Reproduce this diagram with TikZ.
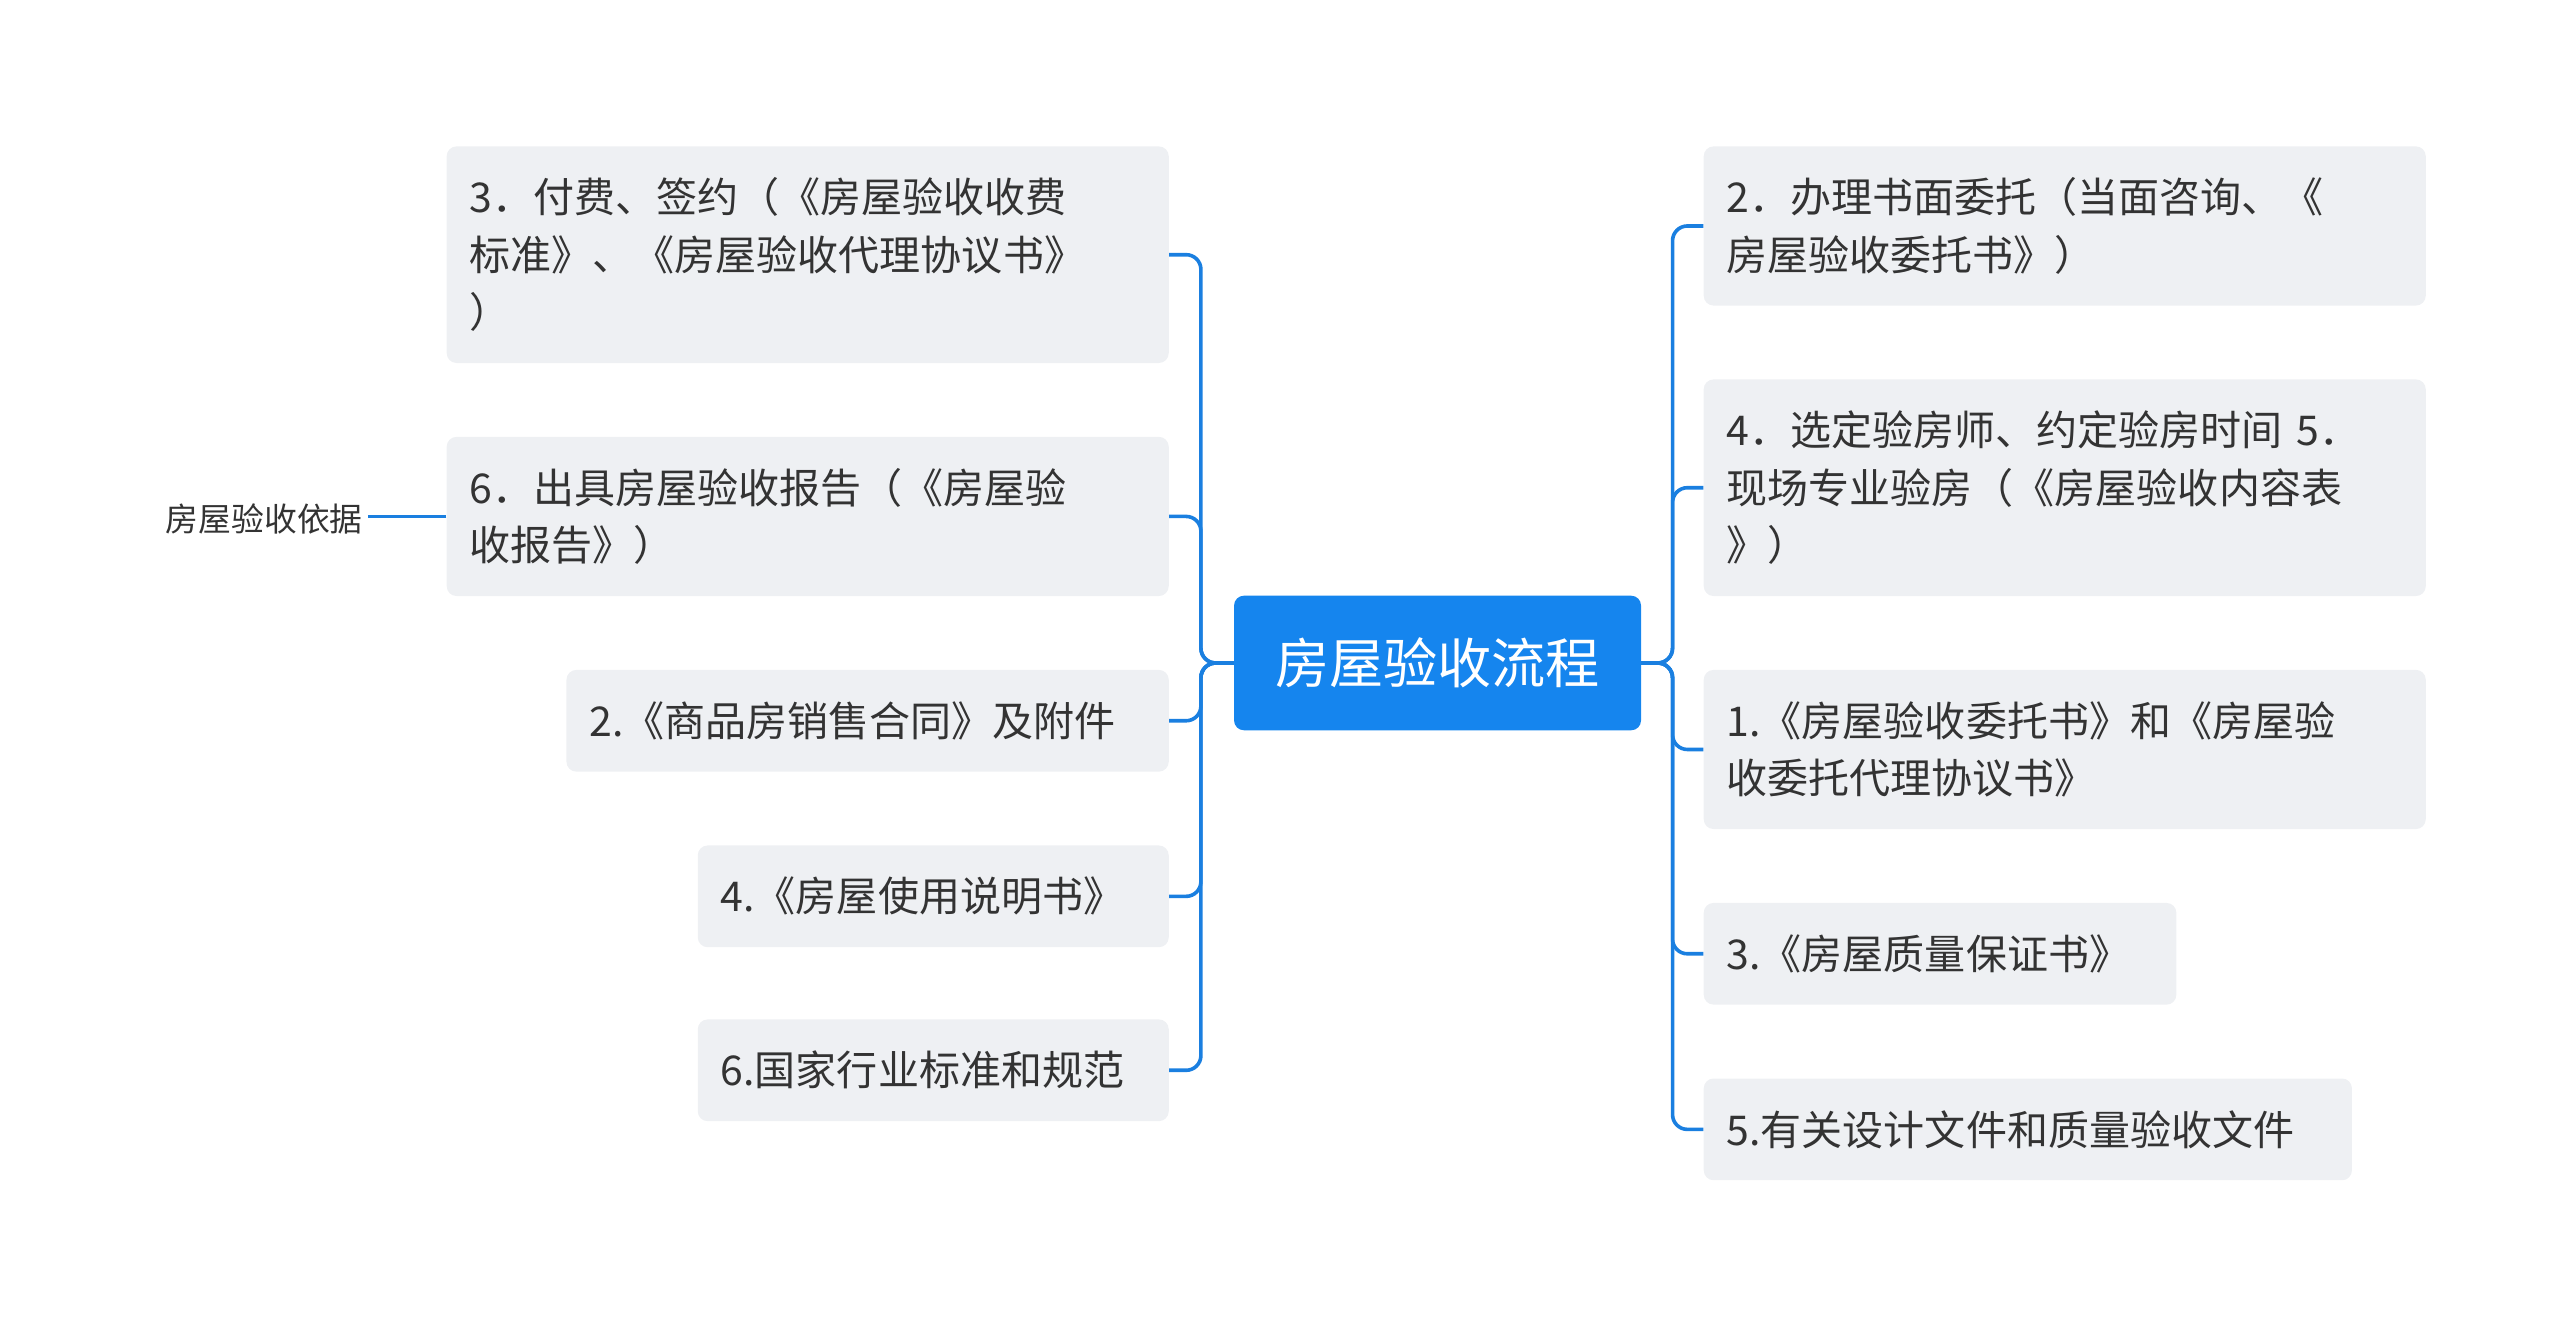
\documentclass[tikz,border=0pt]{standalone}
\usepackage{fontspec}
\newfontfamily\cjk{Noto Sans CJK SC}
\definecolor{boxgray}{HTML}{EEF0F3}
\definecolor{linkblue}{HTML}{1A7FE0}
\definecolor{rootblue}{HTML}{1585EE}
\definecolor{txt}{HTML}{333333}
\tikzset{
  topic/.style={fill=boxgray, rounded corners=6pt, anchor=north west, align=left,
    text=txt, inner xsep=14pt, inner ysep=0pt,
    font=\cjk\fontsize{25}{35}\selectfont},
  conn/.style={draw=linkblue, line width=2.2pt, rounded corners=9pt}
}
\begin{document}
\begin{tikzpicture}[x=1pt,y=-1pt]
        \useasboundingbox (0,0) rectangle (1560,804);
        \node[fill=rootblue, rounded corners=6pt, text=white, minimum width=248pt,
              minimum height=82pt, font=\cjk\fontsize{33}{40}\selectfont] (root) at (876,404) {房屋验收流程};
        % left side
        \node[topic, text width=412pt, minimum height=132pt] (L1) at (272,89) {3．付费、签约（《房屋验收收费\\标准》、《房屋验收代理协议书》\\）};
        \node[topic, text width=412pt, minimum height=97pt] (L2) at (272,266) {6．出具房屋验收报告（《房屋验\\收报告》）};
        \node[topic, text width=339pt, minimum height=62pt] (L3) at (345,408) {2.《商品房销售合同》及附件};
        \node[topic, text width=259pt, minimum height=62pt] (L4) at (425,515) {4.《房屋使用说明书》};
        \node[topic, text width=259pt, minimum height=62pt] (L5) at (425,621) {6.国家行业标准和规范};
        \node[text=txt, font=\cjk\fontsize{20}{24}\selectfont] (leaf) at (161,316) {房屋验收依据};
        % right side
        \node[topic, text width=412pt, minimum height=97pt] (R1) at (1038,89) {2．办理书面委托（当面咨询、《\\房屋验收委托书》）};
        \node[topic, text width=412pt, minimum height=132pt] (R2) at (1038,231) {4．选定验房师、约定验房时间 5．\\现场专业验房（《房屋验收内容表\\》）};
        \node[topic, text width=412pt, minimum height=97pt] (R3) at (1038,408) {1.《房屋验收委托书》和《房屋验\\收委托代理协议书》};
        \node[topic, text width=260pt, minimum height=62pt] (R4) at (1038,550) {3.《房屋质量保证书》};
        \node[topic, text width=367pt, minimum height=62pt] (R5) at (1038,657) {5.有关设计文件和质量验收文件};
        % links
        \foreach \n in {L1,L2,L3,L4,L5}
          \draw[conn] (root.west) -- ++(-20,0) |- (\n.east);
        \foreach \n in {R1,R2,R3,R4,R5}
          \draw[conn] (root.east) -- ++(19,0) |- (\n.west);
        \draw[conn] (L2.west) -- (L2.west -| leaf.east);
\end{tikzpicture}
\end{document}
